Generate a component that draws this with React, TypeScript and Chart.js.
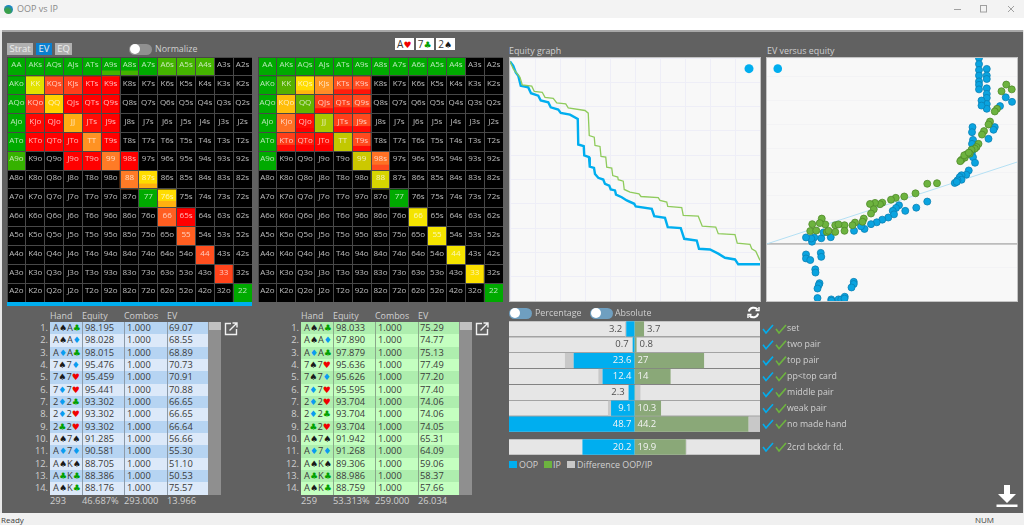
import { useEffect, useRef } from 'react';
import { Chart, registerables } from 'chart.js';

Chart.register(...registerables);

const FONT = '"Open Sans", "DejaVu Sans", sans-serif';

const ranks = ['A', 'K', 'Q', 'J', 'T', '9', '8', '7', '6', '5', '4', '3', '2'];
const _ = null;

// strength of each hand in the range grid, null = not in range
const oopScores = [
  [100, 100, 100, 100, 100, 100, 100, 100, 90, 90, 90, _, _],
  [100, 59, 12, 10, 0, 0, _, _, _, _, _, _, _],
  [100, 9, 50, 0, 0, 0, _, _, _, _, _, _, _],
  [100, 1, 0, 38, 2, 0, _, _, _, _, _, _, _],
  [100, 0, 0, 0, 28, 0, _, _, _, _, _, _, _],
  [92, _, _, 0, 0, 22, 0, _, _, _, _, _, _],
  [_, _, _, _, _, _, 22, 54, _, _, _, _, _],
  [_, _, _, _, _, _, _, 100, 54, _, _, _, _],
  [_, _, _, _, _, _, _, _, 16, 0, _, _, _],
  [_, _, _, _, _, _, _, _, _, 16, _, _, _],
  [_, _, _, _, _, _, _, _, _, _, 13, _, _],
  [_, _, _, _, _, _, _, _, _, _, _, 11, _],
  [_, _, _, _, _, _, _, _, _, _, _, _, 100],
];
const ipScores = [
  [100, 100, 100, 100, 100, 100, 100, 100, 100, 100, 100, _, _],
  [100, 85, 54, 30, 14, 12, _, _, _, _, _, _, _],
  [100, 44, 83, 10, 10, 12, _, _, _, _, _, _, _],
  [100, 20, 2, 72, 10, 12, _, _, _, _, _, _, _],
  [100, 10, 4, 2, 67, 12, _, _, _, _, _, _, _],
  [100, _, _, _, _, 65, 20, _, _, _, _, _, _],
  [_, _, _, _, _, _, 62, _, _, _, _, _, _],
  [_, _, _, _, _, _, _, 100, _, _, _, _, _],
  [_, _, _, _, _, _, _, _, 57, _, _, _, _],
  [_, _, _, _, _, _, _, _, _, 57, _, _, _],
  [_, _, _, _, _, _, _, _, _, _, 57, _, _],
  [_, _, _, _, _, _, _, _, _, _, _, 55, _],
  [_, _, _, _, _, _, _, _, _, _, _, _, 100],
];
// hands that are mixed: [second score, share of the cell]
const oopMixed: Record<string, number[]> = {
  A9s: [90, 0.3],
  A8s: [90, 0.3],
  '87s': [40, 0.3],
  '76s': [40, 0.38],
};
const ipMixed: Record<string, number[]> = {
  KQs: [42, 0.25],
  KJs: [25, 0.25],
  KTs: [5, 0.3],
  K9s: [3, 0.3],
  QJs: [2, 0.3],
  QTs: [3, 0.35],
  Q9s: [3, 0.35],
  QJo: [0, 0.25],
  JTs: [2, 0.35],
  J9s: [2, 0.35],
  KTo: [2, 0.35],
  QTo: [0, 0.35],
  JTo: [0, 0.35],
  T9s: [2, 0.3],
  '98s': [12, 0.3],
};

const oopCurveX = [0, 1.3, 2.3, 3.3, 4.3, 7.3, 8.4, 11.3, 12.3, 15.3, 16.3, 19.3, 20.3, 24, 27.1, 27.3, 29.5, 29.7, 31.6, 31.9, 33.6, 34, 35.3, 37.3, 38, 39.7, 40.3, 42, 42.4, 44.7, 46.7, 49.7, 50.3, 56.7, 57.7, 62, 63.1, 68.3, 69.7, 74.7, 75.6, 80, 83.3, 86, 90, 91.3, 100];
const oopCurveY = [98.6, 96.8, 94.1, 92.7, 88.6, 87.9, 85.5, 84.5, 82.5, 81.8, 79.7, 78.8, 77.4, 76.7, 74.9, 64.4, 63.7, 59.9, 59.2, 55.3, 54.8, 52.3, 50.7, 50, 48.2, 47.5, 45.9, 45.5, 43.8, 42.7, 41.4, 40, 38.9, 37.9, 34.9, 34.2, 30.4, 30, 25.6, 24.9, 21.5, 21.2, 19.5, 17.8, 17.1, 15.1, 15.1];
const ipCurveX = [0, 1.3, 4, 4.9, 8.7, 9.7, 12.9, 14, 17.3, 18.7, 22.3, 23.3, 30, 31.3, 31.7, 33.7, 34, 36, 36.4, 38.3, 38.7, 40.7, 41.1, 43.1, 43.3, 45.3, 45.7, 48, 51.6, 52.4, 59.3, 60, 62.7, 63.1, 68.7, 69.3, 75.3, 76.9, 82.3, 83.3, 90, 90.9, 96, 96.7, 98.3, 100];
const ipCurveY = [98.6, 95.5, 92.1, 88.9, 88.4, 86.3, 85.9, 83.8, 83.4, 81.5, 81.1, 79.5, 78.4, 77.3, 68.1, 67.4, 64, 63.6, 59.5, 59.2, 55.1, 54.7, 51.6, 51, 49.9, 49.3, 45.9, 44.8, 44.1, 43, 42.5, 41.4, 40.7, 38.9, 38.4, 35.2, 34.9, 30.8, 30.4, 27.7, 27.3, 23.8, 23.3, 21.5, 20.5, 16.7];

const oopEquity = [84.8, 84.8, 84.8, 84.8, 84.8, 84.8, 84.8, 87.9, 87.9, 87.9, 87.9, 87.9, 87.9, 87.9, 87.9, 85.8, 85.8, 95.5, 98, 93.2, 82.2, 82, 91.1, 90.6, 88.6, 82.4, 82, 82, 82.4, 83.2, 80.7, 79.7, 77.8, 77.1, 77.8, 76.2, 75.1, 75.9, 64.1, 59.7, 55.3, 52.8, 51.6, 50.3, 50.8, 48.5, 46.1, 43.9, 41.6, 39, 37.6, 34.8, 25.5, 21.7, 24.3, 22.6, 18.9, 18, 17.7, 15.6, 15.6, 15.6, 17.3, 21.5, 21.7, 19.3, 19.4, 21, 20.7, 20.2, 34.7, 34.7, 33.8, 20.2, 25.7, 25.8, 28.6, 29.7, 31.1, 31];
const oopEv = [69.9, 67.6, 65.4, 63.3, 61.1, 59.8, 58.1, 65.8, 63.3, 62, 58.5, 56.4, 54.9, 52.6, 50.8, 53.9, 52, 55.1, 53.4, 51.8, 43.9, 42, 43.9, 42.9, 39.5, 39.1, 37.6, 34.5, 32.6, 30.5, 27.6, 26, 25.8, 25.1, 24.1, 23.9, 22.9, 23.3, 15.9, 13.6, 12.4, 14.5, 13.5, 12.4, 11.1, 9.9, 9.1, 8.1, 7.4, 5.6, 6.6, 4.9, 2.5, 2.1, 4.5, 4.3, 2.4, 0.8, 2, 2.4, -4, -5.5, -6.1, -3.4, -4.9, -9.6, -10.8, -14.8, -15.5, -16.8, -14.3, -15.1, -16.4, -20.4, -20.9, -21.4, -20.9, -20.9, -19.9, -20.6];
const ipEquity = [95.7, 93.8, 97.9, 92, 91.1, 89.2, 88.6, 86.8, 86, 84.6, 83.8, 83.1, 81.8, 81.1, 79.8, 79.1, 77.8, 77.3, 78.9, 80.7, 68, 64.1, 59.4, 54.9, 51.5, 49.6, 46.1, 45.2, 43.2, 41.2, 42.7, 41.6, 38.7, 38.2, 35.2, 34.2, 31, 31, 27.3, 28.6, 27.3, 23.9, 23.3, 21.9, 21.1, 18.1, 17.3, 19.7, 24.6];
const ipEv = [59.9, 57.4, 58.1, 50.8, 49.8, 46, 44.9, 42.4, 41.1, 37.6, 36.4, 35.8, 35.4, 33.9, 33.6, 32.4, 31.6, 31.1, 33.3, 34.3, 22.8, 22.6, 19, 17.8, 17.3, 16.6, 15.5, 14.9, 15.4, 15, 13, 11.4, 9.5, 8.3, 8, 7, 7, 4.9, 7, 7.3, 4.5, 4.5, 7.3, 9.5, 7.8, 7.4, 4.8, 5, 4.9];

const madeLabels = ['set', 'two pair', 'top pair', 'pp<top card', 'middle pair', 'weak pair', 'no made hand'];
const madeOop = [3.2, 0.7, 23.6, 12.4, 2.3, 9.1, 48.7];
const madeIp = [3.7, 0.8, 27, 14, 0.25, 10.3, 44.2];
const drawLabels = ['2crd bckdr fd.'];
const drawOop = [20.2];
const drawIp = [19.9];
const PROFILE_MAX = 48.7;

const oopHands = ['A♠A♣', 'A♠A♦', 'A♦A♣', '7♠7♦', '7♠7♥', '7♦7♥', '2♦2♣', '2♦2♥', '2♣2♥', 'A♠7♠', 'A♦7♦', 'A♠K♠', 'A♣K♣', 'A♠K♣'];
const oopHandEquity = ['98.195', '98.028', '98.015', '95.476', '95.459', '95.441', '93.302', '93.302', '93.302', '91.285', '90.581', '88.705', '88.386', '88.176'];
const oopHandEv = ['69.07', '68.55', '68.89', '70.73', '70.91', '70.88', '66.65', '66.65', '66.64', '56.66', '55.30', '51.10', '50.53', '75.57'];
const oopTotals = ['293', '46.687%', '293.000', '13.966'];
const ipHands = ['A♠A♣', 'A♠A♦', 'A♦A♣', '7♠7♥', '7♠7♦', '7♦7♥', '2♦2♥', '2♦2♣', '2♣2♥', 'A♠7♠', 'A♦7♦', 'A♠K♠', 'A♣K♣', 'A♠K♣'];
const ipHandEquity = ['98.033', '97.890', '97.879', '95.636', '95.626', '95.595', '93.704', '93.704', '93.704', '91.942', '91.268', '89.306', '88.986', '88.759'];
const ipHandEv = ['75.29', '74.77', '75.13', '77.49', '77.20', '77.40', '74.06', '74.06', '74.05', '65.31', '64.09', '59.06', '58.37', '57.66'];
const ipTotals = ['259', '53.313%', '259.000', '26.034'];
const boardCards = ['A♥', '7♣', '2♠'];

const palette = {
  oop: '#00aeef',
  oopDot: '#0aa4e0',
  oopEdge: '#0a80b4',
  ip: '#6db33f',
  ipCurve: '#8fcb5c',
  ipEdge: '#4f8a2a',
  ipBar: '#8aa878',
  diff: '#c8c8c8',
  track: '#e6e6e6',
  panel: '#616161',
  text: '#d0d0d0',
  plot: '#f8f8f8',
  plotGrid: '#eeeef7',
  cellLine: '#484848',
};

const suitColors: Record<string, string> = { '♠': '#1a1a1a', '♣': '#00a000', '♦': '#0a9cf0', '♥': '#f00000' };

const scoreStops: [number, number[]][] = [
  [0, [255, 0, 0]],
  [12, [255, 74, 30]],
  [25, [255, 138, 40]],
  [40, [255, 176, 16]],
  [50, [255, 208, 0]],
  [54, [255, 220, 0]],
  [57, [244, 228, 0]],
  [59, [226, 226, 0]],
  [65, [204, 200, 0]],
  [72, [168, 200, 0]],
  [85, [85, 176, 0]],
  [90, [68, 180, 0]],
  [100, [0, 170, 0]],
];

function scoreColor(score: number | null): string {
  if (score === null) return '#000000';
  for (let i = 1; i < scoreStops.length; i++) {
    const [hi, hiRgb] = scoreStops[i];
    const [lo, loRgb] = scoreStops[i - 1];
    if (score <= hi) {
      const t = (score - lo) / (hi - lo);
      const rgb = loRgb.map((v, k) => Math.round(v + (hiRgb[k] - v) * t));
      return `rgb(${rgb.join(',')})`;
    }
  }
  return 'rgb(0,170,0)';
}

function handName(row: number, col: number): string {
  if (row === col) return ranks[row] + ranks[col];
  return row < col ? ranks[row] + ranks[col] + 's' : ranks[col] + ranks[row] + 'o';
}

function useChart(makeConfig: () => any) {
  const canvasRef = useRef<HTMLCanvasElement | null>(null);
  useEffect(() => {
    if (!canvasRef.current) return;
    const chart = new Chart(canvasRef.current, makeConfig());
    return () => chart.destroy();
  }, []);
  return canvasRef;
}

function Canvas({ config, left, top, width, height, outline }: any) {
  const ref = useChart(config);
  return (
    <canvas
      ref={ref}
      width={width}
      height={height}
      style={{ position: 'absolute', left, top, width, height, outline: outline ? '1px solid #c4c4c4' : undefined }}
    />
  );
}

function gridConfig(scores: (number | null)[][], mixed: Record<string, number[]>) {
  const datasets: any[] = [];
  scores.forEach((row, r) => {
    const names = row.map((_v, c) => handName(r, c));
    const shares = names.map((n) => (mixed[n] ? mixed[n][1] : 0));
    datasets.push({
      data: shares.map((s) => 1 - s),
      backgroundColor: row.map((v) => scoreColor(v)),
    });
    datasets.push({
      data: shares,
      backgroundColor: names.map((n) => (mixed[n] ? scoreColor(mixed[n][0]) : '#000000')),
    });
  });
  return {
    type: 'bar',
    data: { labels: ranks, datasets },
    options: {
      responsive: false,
      animation: false,
      events: [],
      categoryPercentage: 1,
      barPercentage: 1,
      layout: { padding: 0, autoPadding: false },
      plugins: { legend: { display: false }, tooltip: { enabled: false } },
      scales: {
        x: {
          stacked: true,
          ticks: { display: false },
          grid: { z: 1, color: palette.cellLine, drawTicks: false },
          border: { color: palette.cellLine },
        },
        y: {
          stacked: true,
          reverse: true,
          min: 0,
          max: 13,
          ticks: { display: false, stepSize: 1 },
          grid: { z: 1, color: palette.cellLine, drawTicks: false },
          border: { color: palette.cellLine },
        },
      },
    },
    plugins: [
      {
        id: 'handNames',
        afterDraw(chart: any) {
          const { ctx, scales } = chart;
          ctx.save();
          ctx.font = `8px ${FONT}`;
          ctx.textAlign = 'center';
          ctx.textBaseline = 'middle';
          ctx.fillStyle = 'rgba(255,255,255,0.72)';
          scores.forEach((row, r) => {
            row.forEach((_v, c) => {
              ctx.fillText(handName(r, c), scales.x.getPixelForValue(c), scales.y.getPixelForValue(r + 0.42));
            });
          });
          ctx.restore();
        },
      },
    ],
  };
}

const plotBackground = {
  id: 'plotBackground',
  beforeDraw(chart: any) {
    chart.ctx.save();
    chart.ctx.fillStyle = palette.plot;
    chart.ctx.fillRect(0, 0, chart.width, chart.height);
    chart.ctx.restore();
  },
};

function equityConfig() {
  return {
    type: 'scatter',
    data: {
      datasets: [
        {
          data: [{ x: 95.6, y: 95.6 }],
          pointRadius: 4.5,
          pointBackgroundColor: palette.oop,
          pointBorderWidth: 0,
          order: 0,
        },
        {
          data: ipCurveX.map((x, i) => ({ x, y: ipCurveY[i] })),
          showLine: true,
          borderColor: palette.ipCurve,
          borderWidth: 1.3,
          pointRadius: 0,
          order: 1,
        },
        {
          data: oopCurveX.map((x, i) => ({ x, y: oopCurveY[i] })),
          showLine: true,
          borderColor: palette.oop,
          borderWidth: 2.4,
          pointRadius: 0,
          order: 2,
        },
      ],
    },
    options: {
      responsive: false,
      animation: false,
      events: [],
      layout: { padding: 0, autoPadding: false },
      plugins: { legend: { display: false }, tooltip: { enabled: false } },
      scales: {
        x: {
          min: 0,
          max: 100,
          ticks: { display: false, stepSize: 10 },
          grid: { color: palette.plotGrid, drawTicks: false },
          border: { display: false },
        },
        y: {
          min: 0,
          max: 100,
          ticks: { display: false, stepSize: 10 },
          grid: { color: palette.plotGrid, drawTicks: false },
          border: { display: false },
        },
      },
    },
    plugins: [plotBackground],
  };
}

function evConfig() {
  return {
    type: 'scatter',
    data: {
      datasets: [
        {
          data: [{ x: 4.3, y: 65.9 }],
          pointRadius: 4.3,
          pointBackgroundColor: palette.oop,
          pointBorderWidth: 0,
          order: 0,
        },
        {
          data: ipEquity.map((x, i) => ({ x, y: ipEv[i] })),
          pointRadius: 3.5,
          pointBackgroundColor: palette.ip,
          pointBorderColor: palette.ipEdge,
          pointBorderWidth: 0.8,
          order: 1,
        },
        {
          data: oopEquity.map((x, i) => ({ x, y: oopEv[i] })),
          pointRadius: 3.5,
          pointBackgroundColor: palette.oopDot,
          pointBorderColor: palette.oopEdge,
          pointBorderWidth: 0.8,
          order: 2,
        },
        {
          data: [{ x: 0, y: 0 }, { x: 100, y: 30.75 }],
          showLine: true,
          borderColor: '#b4e0f4',
          borderWidth: 1,
          pointRadius: 0,
          order: 3,
        },
        {
          data: [{ x: 0, y: 0 }, { x: 100, y: 0 }],
          showLine: true,
          borderColor: '#bcbcbc',
          borderWidth: 1.6,
          pointRadius: 0,
          order: 4,
        },
      ],
    },
    options: {
      responsive: false,
      animation: false,
      events: [],
      layout: { padding: 0, autoPadding: false },
      plugins: { legend: { display: false }, tooltip: { enabled: false } },
      scales: {
        x: { min: 0, max: 100, display: false },
        y: {
          min: -21.5,
          max: 69.9,
          ticks: { display: false, stepSize: 9 },
          grid: { color: '#f3f3f5', drawTicks: false },
          border: { display: false },
        },
      },
    },
    plugins: [plotBackground],
  };
}

function profileConfig(labels: string[], oop: number[], ip: number[]) {
  return {
    type: 'bar',
    data: {
      labels,
      datasets: [
        { data: oop.map((v) => [-v, 0]), backgroundColor: palette.oop, order: 1 },
        { data: ip.map((v) => [0, v]), backgroundColor: palette.ipBar, order: 1 },
        {
          data: oop.map((v, i) => (ip[i] > v ? [-ip[i], -v] : [ip[i], v])),
          backgroundColor: palette.diff,
          order: 2,
        },
        { data: oop.map(() => [-PROFILE_MAX, PROFILE_MAX]), backgroundColor: palette.track, order: 3 },
      ],
    },
    options: {
      responsive: false,
      animation: false,
      events: [],
      indexAxis: 'y',
      grouped: false,
      categoryPercentage: 1,
      barPercentage: 0.96,
      layout: { padding: { right: 100 }, autoPadding: false },
      plugins: { legend: { display: false }, tooltip: { enabled: false } },
      scales: {
        x: { min: -PROFILE_MAX, max: PROFILE_MAX, display: false },
        y: { display: false },
      },
    },
    plugins: [
      {
        id: 'profileValues',
        afterDatasetsDraw(chart: any) {
          const { ctx, scales, chartArea } = chart;
          ctx.save();
          ctx.textBaseline = 'middle';
          labels.forEach((name, i) => {
            const y = scales.y.getPixelForValue(i);
            const mid = scales.x.getPixelForValue(0);
            const oopLeft = scales.x.getPixelForValue(-oop[i]);
            const ipRight = scales.x.getPixelForValue(ip[i]);
            const oopInside = mid - oopLeft > 20;
            ctx.font = `9.5px ${FONT}`;
            ctx.textAlign = 'right';
            ctx.fillStyle = oopInside ? '#f4f4f4' : '#505050';
            ctx.fillText(String(oop[i]), oopInside ? mid - 3 : oopLeft - 4, y);
            if (ip[i] >= 0.5) {
              const ipInside = ipRight - mid > 12;
              ctx.textAlign = 'left';
              ctx.fillStyle = ipInside ? '#f4f4f4' : '#505050';
              ctx.fillText(String(ip[i]), ipInside ? mid + 3 : ipRight + 3, y);
            }
            ctx.font = `8.8px ${FONT}`;
            ctx.textAlign = 'left';
            ctx.fillStyle = palette.text;
            ctx.fillText(name, chartArea.right + 27, y);
            [palette.oop, palette.ip].forEach((color, k) => {
              const x = chartArea.right + 3 + k * 13;
              ctx.strokeStyle = color;
              ctx.lineWidth = 1.6;
              ctx.beginPath();
              ctx.moveTo(x, y);
              ctx.lineTo(x + 3, y + 4);
              ctx.lineTo(x + 10, y - 4);
              ctx.stroke();
            });
          });
          ctx.restore();
        },
      },
    ],
  };
}

const label = (left: number, top: number, text: string, extra: any = {}) => (
  <div
    key={`${left}-${text}`}
    style={{
      position: 'absolute',
      left,
      top,
      fontSize: 8.9,
      lineHeight: '12px',
      color: palette.text,
      whiteSpace: 'nowrap',
      ...extra,
    }}
  >
    {text}
  </div>
);

function SuitedHand({ hand }: { hand: string }) {
  return (
    <>
      {hand.split('').map((ch, i) => (
        <span key={i} style={suitColors[ch] ? { color: suitColors[ch], fontFamily: '"DejaVu Sans"', fontSize: 9 } : undefined}>
          {ch}
        </span>
      ))}
    </>
  );
}

function HandTable({ left, hands, equity, ev, totals, dark, light, rule }: any) {
  const columns = [0, 32, 74, 117];
  const headers = ['Hand', 'Equity', 'Combos', 'EV'];
  const rowH = 12.33;
  return (
    <div style={{ position: 'absolute', left, top: 322, width: 158, height: 172.5 }}>
      {headers.map((h, i) => label(columns[i], -12, h))}
      {hands.map((hand: string, r: number) => (
        <div
          key={r}
          style={{
            position: 'absolute',
            left: 0,
            top: r * rowH,
            width: 158,
            height: rowH,
            background: r % 2 ? light : dark,
            fontSize: 9.3,
            lineHeight: `${rowH}px`,
            color: '#3a3a3a',
          }}
        >
          <span style={{ position: 'absolute', left: -30, width: 28, textAlign: 'right', color: palette.text }}>{r + 1}.</span>
          <span style={{ position: 'absolute', left: 3 }}>
            <SuitedHand hand={hand} />
          </span>
          <span style={{ position: 'absolute', left: 35 }}>{equity[r]}</span>
          <span style={{ position: 'absolute', left: 77 }}>1.000</span>
          <span style={{ position: 'absolute', left: 119 }}>{ev[r]}</span>
        </div>
      ))}
      {columns.slice(1).map((x) => (
        <div key={x} style={{ position: 'absolute', left: x - 0.5, top: 0, width: 1, height: 172.5, background: rule }} />
      ))}
      <div style={{ position: 'absolute', left: 158, top: 0, width: 13, height: 172.5, background: '#8f8f8f' }} />
      <div style={{ position: 'absolute', left: 159, top: 0, width: 11.5, height: 8, background: '#c0c0c0' }} />
      {totals.map((t: string, i: number) => label(columns[i], 173, t, { fontSize: 9.3 }))}
      <svg style={{ position: 'absolute', left: 174, top: 0 }} width="14" height="14" viewBox="0 0 14 14" fill="none" stroke="#f0f0f0" strokeWidth="1.4">
        <path d="M7 1.5H1.5V12.5H12.5V7" />
        <path d="M5.5 8.5L12.5 1.5M8.5 1H13V5.5" />
      </svg>
    </div>
  );
}

function Toggle({ left, top, width, bg }: any) {
  return (
    <div style={{ position: 'absolute', left, top, width, height: 11, borderRadius: 6, background: bg }}>
      <div style={{ position: 'absolute', left: 1, top: 0.5, width: 10, height: 10, borderRadius: 5, background: '#ffffff' }} />
    </div>
  );
}

function ModeButton({ left, width, text, bg }: any) {
  return (
    <div
      style={{
        position: 'absolute',
        left,
        top: 43,
        width,
        height: 12,
        background: bg,
        color: '#ececec',
        fontSize: 9.5,
        lineHeight: '12px',
        textAlign: 'center',
      }}
    >
      {text}
    </div>
  );
}

export default function App(): JSX.Element {
  return (
    <div
      style={{
        position: 'absolute',
        left: 0,
        top: 0,
        width: 1024,
        height: 525,
        overflow: 'hidden',
        background: palette.panel,
        fontFamily: FONT,
      }}
    >
      <style>{'body{margin:0}'}</style>

      {/* window frame */}
      <div style={{ position: 'absolute', left: 0, top: 0, width: 1024, height: 18, background: '#f3f3f3' }} />
      <div style={{ position: 'absolute', left: 0, top: 18, width: 1024, height: 12, background: '#ffffff' }} />
      <div style={{ position: 'absolute', left: 0, top: 30, width: 1024, height: 2, background: '#a8a8a8' }} />
      <div style={{ position: 'absolute', left: 0, top: 30, width: 1.5, height: 484, background: '#e8e8e8' }} />
      <div style={{ position: 'absolute', left: 1022.5, top: 30, width: 1.5, height: 484, background: '#e8e8e8' }} />
      <div style={{ position: 'absolute', left: 4, top: 4.5, width: 9, height: 9, borderRadius: 5, background: 'radial-gradient(circle at 40% 70%, #3aa04a 30%, #1a86c8 70%)' }} />
      {label(17, 3, 'OOP vs IP', { color: '#8a8a8a', fontSize: 9 })}
      <svg style={{ position: 'absolute', left: 950, top: 3 }} width="70" height="12" fill="none" stroke="#a0a0a0" strokeWidth="1">
        <path d="M4 6.5H11" />
        <rect x="30.5" y="2.5" width="6" height="6.5" />
        <path d="M58 3L64 9M64 3L58 9" />
      </svg>
      <div style={{ position: 'absolute', left: 0, top: 513, width: 1024, height: 12, background: '#f0f0f0' }} />
      {label(1, 514, 'Ready', { color: '#404040', fontSize: 8, lineHeight: '11px' })}
      {label(975, 514, 'NUM', { color: '#404040', fontSize: 8, lineHeight: '11px' })}

      {/* range controls */}
      <ModeButton left={7} width={26} text="Strat" bg="#b0b0b0" />
      <ModeButton left={36} width={16} text="EV" bg="#0a80d0" />
      <ModeButton left={55} width={17} text="EQ" bg="#b0b0b0" />
      <Toggle left={129} top={43.5} width={23} bg="#909090" />
      {label(155, 43, 'Normalize')}
      {boardCards.map((card, i) => (
        <div
          key={card}
          style={{
            position: 'absolute',
            left: 395 + i * 20.5,
            top: 38,
            width: 18.5,
            height: 12,
            background: '#ffffff',
            fontSize: 10,
            lineHeight: '12px',
            textAlign: 'center',
            color: '#3a3a3a',
          }}
        >
          <SuitedHand hand={card} />
        </div>
      ))}

      {/* range grids */}
      <Canvas config={() => gridConfig(oopScores, oopMixed)} left={7} top={57} width={245} height={245} />
      <div style={{ position: 'absolute', left: 7, top: 302, width: 245, height: 4, background: palette.oop }} />
      <Canvas config={() => gridConfig(ipScores, ipMixed)} left={258} top={57} width={245} height={245} />

      {/* plots */}
      {label(509, 45, 'Equity graph')}
      <Canvas config={equityConfig} left={510} top={58} width={250} height={243} outline />
      {label(767, 45, 'EV versus equity')}
      <Canvas config={evConfig} left={767} top={58} width={250} height={243} outline />

      {/* hand profile */}
      <Toggle left={509} top={307.5} width={23} bg="#6f9fc0" />
      {label(535, 307, 'Percentage')}
      <Toggle left={590} top={307.5} width={23} bg="#6f9fc0" />
      {label(615, 307, 'Absolute')}
      <svg style={{ position: 'absolute', left: 747, top: 306 }} width="13" height="13" viewBox="0 0 13 13" fill="none" stroke="#ffffff" strokeWidth="2">
        <path d="M1.8 5.5A5 5 0 0 1 10.5 3.5" />
        <path d="M11.2 7.5A5 5 0 0 1 2.5 9.5" />
        <path d="M8.5 4.5H12V1M4.5 8.5H1V12" strokeWidth="1.4" />
      </svg>
      <Canvas config={() => profileConfig(madeLabels, madeOop, madeIp)} left={509} top={321} width={351} height={111} />
      <Canvas config={() => profileConfig(drawLabels, drawOop, drawIp)} left={509} top={439} width={351} height={16} />
      <div style={{ position: 'absolute', left: 509, top: 461, width: 8, height: 7, background: palette.oop }} />
      {label(519, 458.5, 'OOP')}
      <div style={{ position: 'absolute', left: 544, top: 461, width: 8, height: 7, background: palette.ip }} />
      {label(553, 458.5, 'IP')}
      <div style={{ position: 'absolute', left: 567, top: 461, width: 8, height: 7, background: palette.diff }} />
      {label(577, 458.5, 'Difference OOP/IP')}

      {/* hand tables */}
      <HandTable left={50} hands={oopHands} equity={oopHandEquity} ev={oopHandEv} totals={oopTotals} dark="#b6d4f2" light="#dce9f9" rule="#8c9aa8" />
      <HandTable left={301} hands={ipHands} equity={ipHandEquity} ev={ipHandEv} totals={ipTotals} dark="#aeeeae" light="#c4ffc0" rule="#8aa88a" />

      <svg style={{ position: 'absolute', left: 996, top: 484 }} width="22" height="24" viewBox="0 0 22 24" fill="#ffffff">
        <path d="M8 1H14V10H20L11 19L2 10H8Z" />
        <rect x="0.5" y="20.5" width="21" height="2.5" />
      </svg>
    </div>
  );
}
